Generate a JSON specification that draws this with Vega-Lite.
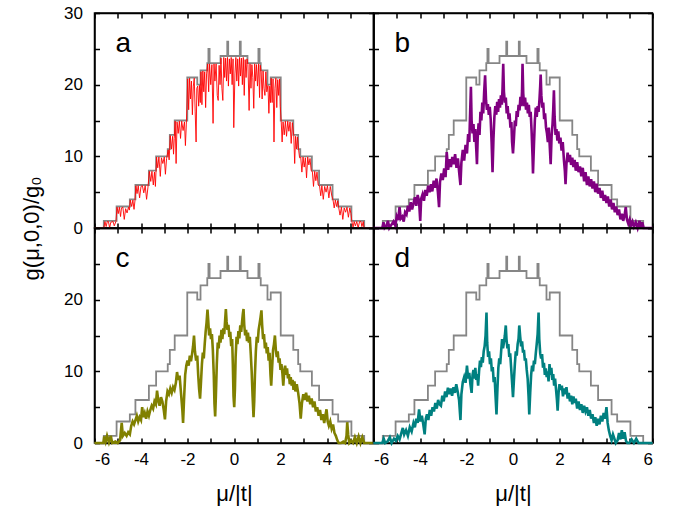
{
"$schema": "https://vega.github.io/schema/vega-lite/v6.json",
"background": "white",
"padding": {"left": 19.5, "top": 3, "right": 5, "bottom": 5},
"datasets": {
"stairs": [
{"x":-6,"y":0},{"x":-5.6,"y":1},{"x":-5.05,"y":3},{"x":-4.48,"y":4},{"x":-4.24,"y":6},{"x":-3.66,"y":8},{"x":-3.35,"y":10},{"x":-2.85,"y":11},{"x":-2.76,"y":13},{"x":-2.55,"y":15},{"x":-2.01,"y":21},{"x":-1.58,"y":20},{"x":-1.44,"y":22},{"x":-1.15,"y":23},{"x":-1.1,"y":25},{"x":-1.05,"y":23},{"x":-0.58,"y":24},{"x":-0.29,"y":26},{"x":-0.25,"y":24},{"x":0.25,"y":26},{"x":0.29,"y":24},{"x":0.58,"y":23},{"x":1.05,"y":25},{"x":1.1,"y":23},{"x":1.15,"y":22},{"x":1.44,"y":20},{"x":1.58,"y":21},{"x":2.01,"y":15},{"x":2.55,"y":13},{"x":2.76,"y":11},{"x":2.85,"y":10},{"x":3.35,"y":8},{"x":3.66,"y":6},{"x":4.24,"y":4},{"x":4.48,"y":3},{"x":5.05,"y":1},{"x":5.6,"y":0},{"x":6,"y":0}
],
"curves": [
{"p":"a","x":-6,"y":0},{"p":"a","x":-5.6,"y":0},{"p":"a","x":-5.55,"y":0.9},{"p":"a","x":-5.5,"y":0.2},{"p":"a","x":-5.45,"y":0.9},{"p":"a","x":-5.4,"y":0.9},{"p":"a","x":-5.35,"y":0},{"p":"a","x":-5.3,"y":0.8},{"p":"a","x":-5.2,"y":0.9},{"p":"a","x":-5.15,"y":0.3},{"p":"a","x":-5.08,"y":0.9},
{"p":"a","x":-5.03,"y":2.9},{"p":"a","x":-4.98,"y":2.0},{"p":"a","x":-4.93,"y":2.9},{"p":"a","x":-4.88,"y":1.6},{"p":"a","x":-4.84,"y":2.8},{"p":"a","x":-4.78,"y":2.9},{"p":"a","x":-4.72,"y":1.2},{"p":"a","x":-4.66,"y":2.7},{"p":"a","x":-4.6,"y":2.1},{"p":"a","x":-4.54,"y":2.9},{"p":"a","x":-4.5,"y":2.5},
{"p":"a","x":-4.46,"y":3.9},{"p":"a","x":-4.4,"y":3.0},{"p":"a","x":-4.35,"y":3.9},{"p":"a","x":-4.3,"y":2.6},{"p":"a","x":-4.26,"y":3.8},
{"p":"a","x":-4.22,"y":5.9},{"p":"a","x":-4.17,"y":4.8},{"p":"a","x":-4.12,"y":5.9},{"p":"a","x":-4.06,"y":4.2},{"p":"a","x":-4.0,"y":5.8},{"p":"a","x":-3.94,"y":5.9},{"p":"a","x":-3.88,"y":4.9},{"p":"a","x":-3.82,"y":5.9},{"p":"a","x":-3.76,"y":4.0},{"p":"a","x":-3.7,"y":5.7},
{"p":"a","x":-3.64,"y":7.9},{"p":"a","x":-3.58,"y":6.5},{"p":"a","x":-3.53,"y":7.9},{"p":"a","x":-3.47,"y":6.0},{"p":"a","x":-3.42,"y":7.8},{"p":"a","x":-3.38,"y":5.8},
{"p":"a","x":-3.33,"y":9.9},{"p":"a","x":-3.28,"y":8.4},{"p":"a","x":-3.23,"y":9.9},{"p":"a","x":-3.17,"y":7.2},{"p":"a","x":-3.12,"y":9.8},{"p":"a","x":-3.06,"y":9.0},{"p":"a","x":-3.0,"y":9.9},{"p":"a","x":-2.95,"y":7.5},{"p":"a","x":-2.9,"y":9.7},
{"p":"a","x":-2.83,"y":10.9},{"p":"a","x":-2.79,"y":9.5},
{"p":"a","x":-2.74,"y":12.9},{"p":"a","x":-2.69,"y":11.0},{"p":"a","x":-2.64,"y":12.8},{"p":"a","x":-2.6,"y":10.3},{"p":"a","x":-2.57,"y":12.5},
{"p":"a","x":-2.53,"y":14.9},{"p":"a","x":-2.49,"y":9.0},{"p":"a","x":-2.45,"y":14.8},{"p":"a","x":-2.4,"y":13.2},{"p":"a","x":-2.35,"y":14.9},{"p":"a","x":-2.3,"y":12.5},{"p":"a","x":-2.25,"y":14.9},{"p":"a","x":-2.19,"y":13.6},{"p":"a","x":-2.13,"y":14.8},{"p":"a","x":-2.09,"y":11.5},{"p":"a","x":-2.05,"y":14.5},
{"p":"a","x":-1.99,"y":20.8},{"p":"a","x":-1.95,"y":16.5},{"p":"a","x":-1.91,"y":20.9},{"p":"a","x":-1.87,"y":18.0},{"p":"a","x":-1.83,"y":20.5},{"p":"a","x":-1.79,"y":15.8},{"p":"a","x":-1.75,"y":19.8},{"p":"a","x":-1.71,"y":20.9},{"p":"a","x":-1.67,"y":16.2},{"p":"a","x":-1.63,"y":12.0},{"p":"a","x":-1.6,"y":19.5},
{"p":"a","x":-1.56,"y":19.8},{"p":"a","x":-1.52,"y":17.0},{"p":"a","x":-1.48,"y":19.9},{"p":"a","x":-1.45,"y":17.5},
{"p":"a","x":-1.42,"y":21.8},{"p":"a","x":-1.38,"y":17.2},{"p":"a","x":-1.34,"y":21.9},{"p":"a","x":-1.3,"y":19.0},{"p":"a","x":-1.26,"y":21.8},{"p":"a","x":-1.22,"y":16.8},{"p":"a","x":-1.18,"y":21.5},
{"p":"a","x":-1.13,"y":22.9},{"p":"a","x":-1.09,"y":19.0},{"p":"a","x":-1.05,"y":22.9},{"p":"a","x":-1.0,"y":20.0},{"p":"a","x":-0.95,"y":22.8},{"p":"a","x":-0.9,"y":14.6},{"p":"a","x":-0.86,"y":22.9},{"p":"a","x":-0.82,"y":20.5},{"p":"a","x":-0.77,"y":22.9},{"p":"a","x":-0.72,"y":18.5},{"p":"a","x":-0.68,"y":17.8},{"p":"a","x":-0.64,"y":22.7},{"p":"a","x":-0.6,"y":20.0},
{"p":"a","x":-0.56,"y":23.7},{"p":"a","x":-0.52,"y":19.5},{"p":"a","x":-0.48,"y":17.8},{"p":"a","x":-0.44,"y":23.8},{"p":"a","x":-0.4,"y":21.0},{"p":"a","x":-0.36,"y":23.7},{"p":"a","x":-0.32,"y":20.5},{"p":"a","x":-0.28,"y":23.8},{"p":"a","x":-0.24,"y":19.8},{"p":"a","x":-0.2,"y":23.6},{"p":"a","x":-0.16,"y":21.5},{"p":"a","x":-0.12,"y":23.8},{"p":"a","x":-0.08,"y":20.0},{"p":"a","x":-0.04,"y":23.6},{"p":"a","x":-0.01,"y":14.0},
{"p":"a","x":0.04,"y":21.5},{"p":"a","x":0.08,"y":23.8},{"p":"a","x":0.12,"y":20.5},{"p":"a","x":0.16,"y":23.6},{"p":"a","x":0.2,"y":19.8},{"p":"a","x":0.24,"y":23.8},{"p":"a","x":0.28,"y":21.2},{"p":"a","x":0.32,"y":23.7},{"p":"a","x":0.36,"y":20.0},{"p":"a","x":0.4,"y":23.8},{"p":"a","x":0.44,"y":18.5},{"p":"a","x":0.48,"y":23.5},{"p":"a","x":0.52,"y":21.0},{"p":"a","x":0.56,"y":23.6},
{"p":"a","x":0.6,"y":22.8},{"p":"a","x":0.65,"y":16.4},{"p":"a","x":0.69,"y":22.9},{"p":"a","x":0.73,"y":19.5},{"p":"a","x":0.77,"y":22.8},{"p":"a","x":0.81,"y":21.0},{"p":"a","x":0.85,"y":16.7},{"p":"a","x":0.89,"y":22.9},{"p":"a","x":0.93,"y":20.5},{"p":"a","x":0.97,"y":22.8},{"p":"a","x":1.01,"y":19.8},
{"p":"a","x":1.06,"y":22.9},{"p":"a","x":1.1,"y":18.2},{"p":"a","x":1.13,"y":22.7},
{"p":"a","x":1.17,"y":21.8},{"p":"a","x":1.21,"y":18.0},{"p":"a","x":1.25,"y":21.9},{"p":"a","x":1.29,"y":19.5},{"p":"a","x":1.33,"y":18.5},{"p":"a","x":1.37,"y":21.8},{"p":"a","x":1.41,"y":19.0},
{"p":"a","x":1.46,"y":19.9},{"p":"a","x":1.5,"y":16.0},{"p":"a","x":1.54,"y":19.8},{"p":"a","x":1.57,"y":17.5},
{"p":"a","x":1.6,"y":20.9},{"p":"a","x":1.64,"y":17.5},{"p":"a","x":1.68,"y":20.8},{"p":"a","x":1.72,"y":12.0},{"p":"a","x":1.76,"y":19.5},{"p":"a","x":1.8,"y":20.9},{"p":"a","x":1.84,"y":16.8},{"p":"a","x":1.88,"y":20.7},{"p":"a","x":1.92,"y":18.5},{"p":"a","x":1.96,"y":20.8},{"p":"a","x":1.99,"y":17.0},
{"p":"a","x":2.03,"y":14.9},{"p":"a","x":2.07,"y":12.0},{"p":"a","x":2.11,"y":14.8},{"p":"a","x":2.16,"y":13.0},{"p":"a","x":2.21,"y":14.9},{"p":"a","x":2.26,"y":12.8},{"p":"a","x":2.31,"y":14.9},{"p":"a","x":2.36,"y":13.5},{"p":"a","x":2.41,"y":14.8},{"p":"a","x":2.46,"y":11.8},{"p":"a","x":2.51,"y":14.7},
{"p":"a","x":2.57,"y":12.9},{"p":"a","x":2.61,"y":9.0},{"p":"a","x":2.65,"y":12.8},{"p":"a","x":2.69,"y":11.0},{"p":"a","x":2.73,"y":12.7},
{"p":"a","x":2.78,"y":10.9},{"p":"a","x":2.82,"y":9.8},
{"p":"a","x":2.87,"y":9.9},{"p":"a","x":2.92,"y":7.8},{"p":"a","x":2.97,"y":9.9},{"p":"a","x":3.02,"y":8.5},{"p":"a","x":3.07,"y":9.8},{"p":"a","x":3.12,"y":7.0},{"p":"a","x":3.17,"y":9.9},{"p":"a","x":3.22,"y":8.8},{"p":"a","x":3.27,"y":9.7},{"p":"a","x":3.32,"y":8.0},
{"p":"a","x":3.37,"y":7.9},{"p":"a","x":3.42,"y":5.8},{"p":"a","x":3.47,"y":7.9},{"p":"a","x":3.52,"y":6.6},{"p":"a","x":3.57,"y":7.8},{"p":"a","x":3.62,"y":6.0},
{"p":"a","x":3.68,"y":5.9},{"p":"a","x":3.73,"y":4.5},{"p":"a","x":3.78,"y":5.9},{"p":"a","x":3.84,"y":4.0},{"p":"a","x":3.9,"y":5.8},{"p":"a","x":3.96,"y":5.0},{"p":"a","x":4.02,"y":5.9},{"p":"a","x":4.08,"y":4.2},{"p":"a","x":4.14,"y":5.8},{"p":"a","x":4.2,"y":4.6},
{"p":"a","x":4.26,"y":3.9},{"p":"a","x":4.31,"y":2.8},{"p":"a","x":4.36,"y":3.9},{"p":"a","x":4.41,"y":3.0},{"p":"a","x":4.46,"y":3.8},
{"p":"a","x":4.5,"y":2.9},{"p":"a","x":4.56,"y":1.8},{"p":"a","x":4.62,"y":2.9},{"p":"a","x":4.68,"y":1.2},{"p":"a","x":4.74,"y":2.8},{"p":"a","x":4.8,"y":2.2},{"p":"a","x":4.86,"y":2.9},{"p":"a","x":4.92,"y":1.5},{"p":"a","x":4.98,"y":2.8},{"p":"a","x":5.03,"y":2.0},
{"p":"a","x":5.07,"y":0.9},{"p":"a","x":5.12,"y":0.1},{"p":"a","x":5.17,"y":0.9},{"p":"a","x":5.22,"y":0.3},{"p":"a","x":5.28,"y":0.9},{"p":"a","x":5.34,"y":0},{"p":"a","x":5.4,"y":0.9},{"p":"a","x":5.46,"y":0.9},{"p":"a","x":5.5,"y":0.2},{"p":"a","x":5.56,"y":0.9},{"p":"a","x":5.59,"y":0},{"p":"a","x":6,"y":0},

{"p":"b","x":-6,"y":0},{"p":"b","x":-5.62,"y":0},{"p":"b","x":-5.57,"y":0.8},{"p":"b","x":-5.52,"y":0},{"p":"b","x":-5.44,"y":0.3},{"p":"b","x":-5.38,"y":1.0},{"p":"b","x":-5.32,"y":0},{"p":"b","x":-5.22,"y":0.5},{"p":"b","x":-5.14,"y":0.9},{"p":"b","x":-5.06,"y":0.3},{"p":"b","x":-5.0,"y":1.6},{"p":"b","x":-4.94,"y":1.1},{"p":"b","x":-4.88,"y":2.9},{"p":"b","x":-4.83,"y":1.3},{"p":"b","x":-4.76,"y":1.6},{"p":"b","x":-4.7,"y":0.9},{"p":"b","x":-4.64,"y":2.2},{"p":"b","x":-4.58,"y":1.9},{"p":"b","x":-4.52,"y":3.1},{"p":"b","x":-4.46,"y":2.3},{"p":"b","x":-4.4,"y":3.6},{"p":"b","x":-4.34,"y":2.6},{"p":"b","x":-4.28,"y":3.4},{"p":"b","x":-4.22,"y":4.3},{"p":"b","x":-4.16,"y":3.1},{"p":"b","x":-4.1,"y":4.6},{"p":"b","x":-4.04,"y":3.7},{"p":"b","x":-3.99,"y":1.0},{"p":"b","x":-3.95,"y":4.1},{"p":"b","x":-3.89,"y":4.7},{"p":"b","x":-3.83,"y":3.8},{"p":"b","x":-3.77,"y":5.3},{"p":"b","x":-3.71,"y":4.5},{"p":"b","x":-3.65,"y":5.9},{"p":"b","x":-3.59,"y":5.0},{"p":"b","x":-3.53,"y":6.1},{"p":"b","x":-3.47,"y":5.1},{"p":"b","x":-3.41,"y":6.6},{"p":"b","x":-3.35,"y":5.6},{"p":"b","x":-3.29,"y":6.9},{"p":"b","x":-3.23,"y":5.0},{"p":"b","x":-3.18,"y":2.9},{"p":"b","x":-3.14,"y":6.4},{"p":"b","x":-3.08,"y":7.6},{"p":"b","x":-3.02,"y":6.7},{"p":"b","x":-2.96,"y":8.3},{"p":"b","x":-2.9,"y":7.1},{"p":"b","x":-2.85,"y":10.6},{"p":"b","x":-2.79,"y":8.1},{"p":"b","x":-2.73,"y":9.6},{"p":"b","x":-2.67,"y":8.5},{"p":"b","x":-2.61,"y":9.9},{"p":"b","x":-2.55,"y":8.9},{"p":"b","x":-2.49,"y":10.3},{"p":"b","x":-2.43,"y":8.4},{"p":"b","x":-2.37,"y":9.7},{"p":"b","x":-2.31,"y":7.6},{"p":"b","x":-2.26,"y":6.0},{"p":"b","x":-2.22,"y":9.1},{"p":"b","x":-2.16,"y":10.9},{"p":"b","x":-2.1,"y":9.4},{"p":"b","x":-2.04,"y":11.6},{"p":"b","x":-1.98,"y":10.4},{"p":"b","x":-1.93,"y":13.1},{"p":"b","x":-1.88,"y":12.0},{"p":"b","x":-1.84,"y":16.5},{"p":"b","x":-1.81,"y":19.7},{"p":"b","x":-1.78,"y":15.0},{"p":"b","x":-1.74,"y":13.2},{"p":"b","x":-1.7,"y":14.5},{"p":"b","x":-1.66,"y":12.0},{"p":"b","x":-1.62,"y":13.8},{"p":"b","x":-1.58,"y":11.0},{"p":"b","x":-1.55,"y":8.9},{"p":"b","x":-1.52,"y":12.5},{"p":"b","x":-1.48,"y":14.6},{"p":"b","x":-1.44,"y":13.0},{"p":"b","x":-1.4,"y":16.2},{"p":"b","x":-1.36,"y":15.0},{"p":"b","x":-1.32,"y":17.5},{"p":"b","x":-1.28,"y":16.0},{"p":"b","x":-1.24,"y":19.0},{"p":"b","x":-1.2,"y":21.3},{"p":"b","x":-1.16,"y":17.8},{"p":"b","x":-1.12,"y":16.5},{"p":"b","x":-1.08,"y":17.3},{"p":"b","x":-1.04,"y":15.8},{"p":"b","x":-1.0,"y":16.9},{"p":"b","x":-0.96,"y":15.2},{"p":"b","x":-0.92,"y":12.0},{"p":"b","x":-0.88,"y":7.8},{"p":"b","x":-0.84,"y":12.5},{"p":"b","x":-0.8,"y":15.5},{"p":"b","x":-0.76,"y":17.0},{"p":"b","x":-0.72,"y":15.8},{"p":"b","x":-0.68,"y":17.6},{"p":"b","x":-0.64,"y":16.2},{"p":"b","x":-0.6,"y":18.0},{"p":"b","x":-0.56,"y":16.8},{"p":"b","x":-0.52,"y":18.5},{"p":"b","x":-0.48,"y":17.2},{"p":"b","x":-0.45,"y":19.5},{"p":"b","x":-0.42,"y":22.9},{"p":"b","x":-0.39,"y":19.0},{"p":"b","x":-0.35,"y":17.5},{"p":"b","x":-0.31,"y":18.2},{"p":"b","x":-0.27,"y":16.0},{"p":"b","x":-0.23,"y":17.0},{"p":"b","x":-0.19,"y":15.2},{"p":"b","x":-0.15,"y":16.0},{"p":"b","x":-0.11,"y":14.0},{"p":"b","x":-0.07,"y":14.8},{"p":"b","x":-0.04,"y":12.0},{"p":"b","x":0.0,"y":10.4},
{"p":"b","x":0.04,"y":12.5},{"p":"b","x":0.08,"y":15.0},{"p":"b","x":0.12,"y":14.2},{"p":"b","x":0.16,"y":16.3},{"p":"b","x":0.2,"y":15.5},{"p":"b","x":0.24,"y":17.2},{"p":"b","x":0.28,"y":16.4},{"p":"b","x":0.32,"y":18.3},{"p":"b","x":0.36,"y":17.0},{"p":"b","x":0.39,"y":19.2},{"p":"b","x":0.41,"y":22.9},{"p":"b","x":0.44,"y":18.8},{"p":"b","x":0.48,"y":17.0},{"p":"b","x":0.52,"y":18.2},{"p":"b","x":0.56,"y":16.5},{"p":"b","x":0.6,"y":17.5},{"p":"b","x":0.64,"y":16.0},{"p":"b","x":0.68,"y":17.2},{"p":"b","x":0.72,"y":15.5},{"p":"b","x":0.76,"y":16.2},{"p":"b","x":0.8,"y":13.5},{"p":"b","x":0.84,"y":10.0},{"p":"b","x":0.86,"y":7.6},{"p":"b","x":0.9,"y":11.5},{"p":"b","x":0.94,"y":15.0},{"p":"b","x":0.98,"y":16.8},{"p":"b","x":1.02,"y":15.5},{"p":"b","x":1.06,"y":17.0},{"p":"b","x":1.1,"y":16.2},{"p":"b","x":1.14,"y":18.0},{"p":"b","x":1.17,"y":19.8},{"p":"b","x":1.19,"y":21.4},{"p":"b","x":1.22,"y":18.5},{"p":"b","x":1.26,"y":16.8},{"p":"b","x":1.3,"y":17.5},{"p":"b","x":1.34,"y":15.2},{"p":"b","x":1.38,"y":16.0},{"p":"b","x":1.42,"y":14.0},{"p":"b","x":1.46,"y":13.2},{"p":"b","x":1.5,"y":12.0},{"p":"b","x":1.54,"y":14.0},{"p":"b","x":1.58,"y":11.5},{"p":"b","x":1.62,"y":8.9},{"p":"b","x":1.66,"y":12.8},{"p":"b","x":1.7,"y":14.5},{"p":"b","x":1.73,"y":16.5},{"p":"b","x":1.76,"y":19.2},{"p":"b","x":1.79,"y":15.5},{"p":"b","x":1.83,"y":13.0},{"p":"b","x":1.87,"y":13.8},{"p":"b","x":1.91,"y":12.2},{"p":"b","x":1.95,"y":13.5},{"p":"b","x":1.99,"y":11.8},{"p":"b","x":2.04,"y":12.6},{"p":"b","x":2.09,"y":10.8},{"p":"b","x":2.14,"y":12.0},{"p":"b","x":2.19,"y":9.5},{"p":"b","x":2.23,"y":8.0},{"p":"b","x":2.26,"y":6.1},{"p":"b","x":2.3,"y":9.0},{"p":"b","x":2.35,"y":10.5},{"p":"b","x":2.4,"y":9.2},{"p":"b","x":2.45,"y":10.2},{"p":"b","x":2.5,"y":8.8},{"p":"b","x":2.55,"y":9.8},{"p":"b","x":2.6,"y":8.5},{"p":"b","x":2.65,"y":9.5},{"p":"b","x":2.7,"y":8.0},{"p":"b","x":2.76,"y":9.2},{"p":"b","x":2.82,"y":7.8},{"p":"b","x":2.88,"y":8.6},{"p":"b","x":2.94,"y":7.2},{"p":"b","x":3.0,"y":8.4},{"p":"b","x":3.06,"y":6.5},{"p":"b","x":3.12,"y":7.8},{"p":"b","x":3.18,"y":6.0},{"p":"b","x":3.24,"y":7.2},{"p":"b","x":3.3,"y":5.8},{"p":"b","x":3.36,"y":6.8},{"p":"b","x":3.42,"y":5.5},{"p":"b","x":3.48,"y":6.5},{"p":"b","x":3.54,"y":5.0},{"p":"b","x":3.6,"y":6.2},{"p":"b","x":3.66,"y":4.8},{"p":"b","x":3.72,"y":5.6},{"p":"b","x":3.78,"y":4.2},{"p":"b","x":3.84,"y":5.2},{"p":"b","x":3.9,"y":3.8},{"p":"b","x":3.96,"y":4.6},{"p":"b","x":4.02,"y":3.5},{"p":"b","x":4.08,"y":4.4},{"p":"b","x":4.14,"y":3.0},{"p":"b","x":4.2,"y":4.0},{"p":"b","x":4.26,"y":2.6},{"p":"b","x":4.32,"y":3.5},{"p":"b","x":4.38,"y":2.2},{"p":"b","x":4.44,"y":3.0},{"p":"b","x":4.5,"y":1.8},{"p":"b","x":4.56,"y":2.6},{"p":"b","x":4.62,"y":1.2},{"p":"b","x":4.68,"y":2.0},{"p":"b","x":4.74,"y":1.0},{"p":"b","x":4.8,"y":1.8},{"p":"b","x":4.85,"y":2.9},{"p":"b","x":4.9,"y":1.2},{"p":"b","x":4.96,"y":0.6},{"p":"b","x":5.02,"y":1.2},{"p":"b","x":5.08,"y":0.4},{"p":"b","x":5.14,"y":0.9},{"p":"b","x":5.2,"y":0.2},{"p":"b","x":5.28,"y":0.8},{"p":"b","x":5.36,"y":0},{"p":"b","x":5.44,"y":1.0},{"p":"b","x":5.5,"y":0},{"p":"b","x":5.56,"y":0.8},{"p":"b","x":5.62,"y":0},{"p":"b","x":6,"y":0},

{"p":"c","x":-6,"y":0},{"p":"c","x":-5.62,"y":0},{"p":"c","x":-5.58,"y":0.9},{"p":"c","x":-5.52,"y":0.2},{"p":"c","x":-5.46,"y":1.0},{"p":"c","x":-5.38,"y":0.1},{"p":"c","x":-5.3,"y":1.0},{"p":"c","x":-5.24,"y":0},{"p":"c","x":-5.1,"y":0.2},{"p":"c","x":-5.0,"y":0},{"p":"c","x":-4.9,"y":0.4},{"p":"c","x":-4.83,"y":2.8},{"p":"c","x":-4.78,"y":1.0},{"p":"c","x":-4.7,"y":1.4},{"p":"c","x":-4.62,"y":1.0},{"p":"c","x":-4.55,"y":1.5},{"p":"c","x":-4.48,"y":1.2},{"p":"c","x":-4.42,"y":2.4},{"p":"c","x":-4.36,"y":3.0},{"p":"c","x":-4.3,"y":2.6},{"p":"c","x":-4.24,"y":3.2},{"p":"c","x":-4.18,"y":3.8},{"p":"c","x":-4.12,"y":3.0},{"p":"c","x":-4.06,"y":3.6},{"p":"c","x":-4.0,"y":3.2},{"p":"c","x":-3.95,"y":5.0},{"p":"c","x":-3.9,"y":3.6},{"p":"c","x":-3.84,"y":4.2},{"p":"c","x":-3.78,"y":3.4},{"p":"c","x":-3.72,"y":4.4},{"p":"c","x":-3.66,"y":3.8},{"p":"c","x":-3.6,"y":4.6},{"p":"c","x":-3.54,"y":5.2},{"p":"c","x":-3.48,"y":4.8},{"p":"c","x":-3.42,"y":5.8},{"p":"c","x":-3.36,"y":5.4},{"p":"c","x":-3.31,"y":7.3},{"p":"c","x":-3.26,"y":6.0},{"p":"c","x":-3.2,"y":5.2},{"p":"c","x":-3.14,"y":6.4},{"p":"c","x":-3.08,"y":5.8},{"p":"c","x":-3.02,"y":4.6},{"p":"c","x":-2.97,"y":3.3},{"p":"c","x":-2.92,"y":5.8},{"p":"c","x":-2.86,"y":7.2},{"p":"c","x":-2.8,"y":6.8},{"p":"c","x":-2.74,"y":7.6},{"p":"c","x":-2.68,"y":7.0},{"p":"c","x":-2.62,"y":7.8},{"p":"c","x":-2.56,"y":7.4},{"p":"c","x":-2.5,"y":8.4},{"p":"c","x":-2.45,"y":9.9},{"p":"c","x":-2.4,"y":8.8},{"p":"c","x":-2.34,"y":9.4},{"p":"c","x":-2.28,"y":7.0},{"p":"c","x":-2.22,"y":4.5},{"p":"c","x":-2.19,"y":2.8},{"p":"c","x":-2.15,"y":6.0},{"p":"c","x":-2.1,"y":9.5},{"p":"c","x":-2.05,"y":10.8},{"p":"c","x":-2.0,"y":11.5},{"p":"c","x":-1.95,"y":10.8},{"p":"c","x":-1.9,"y":12.2},{"p":"c","x":-1.85,"y":11.4},{"p":"c","x":-1.8,"y":12.5},{"p":"c","x":-1.76,"y":13.5},{"p":"c","x":-1.72,"y":15.0},{"p":"c","x":-1.68,"y":12.8},{"p":"c","x":-1.63,"y":11.5},{"p":"c","x":-1.58,"y":12.2},{"p":"c","x":-1.54,"y":9.5},{"p":"c","x":-1.5,"y":7.5},{"p":"c","x":-1.46,"y":6.2},{"p":"c","x":-1.42,"y":8.5},{"p":"c","x":-1.38,"y":11.0},{"p":"c","x":-1.34,"y":12.6},{"p":"c","x":-1.3,"y":11.8},{"p":"c","x":-1.26,"y":13.8},{"p":"c","x":-1.22,"y":15.5},{"p":"c","x":-1.18,"y":16.8},{"p":"c","x":-1.14,"y":18.6},{"p":"c","x":-1.11,"y":17.2},{"p":"c","x":-1.07,"y":15.0},{"p":"c","x":-1.03,"y":16.0},{"p":"c","x":-0.99,"y":14.5},{"p":"c","x":-0.95,"y":15.2},{"p":"c","x":-0.91,"y":13.0},{"p":"c","x":-0.87,"y":9.5},{"p":"c","x":-0.84,"y":5.5},{"p":"c","x":-0.81,"y":3.7},{"p":"c","x":-0.78,"y":6.5},{"p":"c","x":-0.74,"y":11.0},{"p":"c","x":-0.7,"y":14.0},{"p":"c","x":-0.66,"y":13.2},{"p":"c","x":-0.62,"y":15.0},{"p":"c","x":-0.58,"y":14.0},{"p":"c","x":-0.54,"y":15.8},{"p":"c","x":-0.5,"y":14.5},{"p":"c","x":-0.46,"y":16.0},{"p":"c","x":-0.42,"y":15.2},{"p":"c","x":-0.38,"y":17.2},{"p":"c","x":-0.35,"y":18.7},{"p":"c","x":-0.32,"y":17.0},{"p":"c","x":-0.28,"y":15.8},{"p":"c","x":-0.24,"y":16.5},{"p":"c","x":-0.2,"y":14.8},{"p":"c","x":-0.16,"y":15.5},{"p":"c","x":-0.12,"y":13.5},{"p":"c","x":-0.08,"y":14.5},{"p":"c","x":-0.05,"y":11.0},{"p":"c","x":-0.02,"y":6.5},{"p":"c","x":0.01,"y":5.0},
{"p":"c","x":0.04,"y":7.5},{"p":"c","x":0.07,"y":12.0},{"p":"c","x":0.11,"y":14.8},{"p":"c","x":0.15,"y":13.8},{"p":"c","x":0.19,"y":15.6},{"p":"c","x":0.23,"y":14.6},{"p":"c","x":0.27,"y":16.4},{"p":"c","x":0.31,"y":15.5},{"p":"c","x":0.35,"y":17.0},{"p":"c","x":0.38,"y":18.0},{"p":"c","x":0.41,"y":18.7},{"p":"c","x":0.44,"y":16.5},{"p":"c","x":0.48,"y":15.0},{"p":"c","x":0.52,"y":15.8},{"p":"c","x":0.56,"y":14.2},{"p":"c","x":0.6,"y":15.4},{"p":"c","x":0.64,"y":14.0},{"p":"c","x":0.68,"y":14.8},{"p":"c","x":0.72,"y":12.5},{"p":"c","x":0.76,"y":10.0},{"p":"c","x":0.8,"y":6.5},{"p":"c","x":0.84,"y":3.6},{"p":"c","x":0.87,"y":5.8},{"p":"c","x":0.9,"y":9.5},{"p":"c","x":0.94,"y":12.8},{"p":"c","x":0.98,"y":14.8},{"p":"c","x":1.02,"y":14.0},{"p":"c","x":1.06,"y":15.8},{"p":"c","x":1.1,"y":16.6},{"p":"c","x":1.14,"y":17.5},{"p":"c","x":1.18,"y":18.5},{"p":"c","x":1.21,"y":16.5},{"p":"c","x":1.25,"y":14.5},{"p":"c","x":1.29,"y":15.2},{"p":"c","x":1.33,"y":13.2},{"p":"c","x":1.37,"y":14.0},{"p":"c","x":1.41,"y":12.5},{"p":"c","x":1.45,"y":13.4},{"p":"c","x":1.49,"y":11.5},{"p":"c","x":1.53,"y":12.6},{"p":"c","x":1.57,"y":9.5},{"p":"c","x":1.6,"y":8.0},{"p":"c","x":1.64,"y":10.5},{"p":"c","x":1.68,"y":13.0},{"p":"c","x":1.72,"y":13.8},{"p":"c","x":1.76,"y":15.0},{"p":"c","x":1.8,"y":13.0},{"p":"c","x":1.84,"y":12.0},{"p":"c","x":1.88,"y":12.8},{"p":"c","x":1.92,"y":11.2},{"p":"c","x":1.96,"y":11.8},{"p":"c","x":2.0,"y":10.2},{"p":"c","x":2.04,"y":11.0},{"p":"c","x":2.08,"y":9.8},{"p":"c","x":2.12,"y":8.0},{"p":"c","x":2.16,"y":10.0},{"p":"c","x":2.2,"y":10.8},{"p":"c","x":2.24,"y":9.5},{"p":"c","x":2.28,"y":10.4},{"p":"c","x":2.32,"y":9.0},{"p":"c","x":2.36,"y":9.6},{"p":"c","x":2.4,"y":8.2},{"p":"c","x":2.44,"y":9.2},{"p":"c","x":2.48,"y":8.0},{"p":"c","x":2.52,"y":8.8},{"p":"c","x":2.56,"y":7.4},{"p":"c","x":2.6,"y":8.6},{"p":"c","x":2.64,"y":7.2},{"p":"c","x":2.7,"y":8.2},{"p":"c","x":2.76,"y":7.0},{"p":"c","x":2.82,"y":5.5},{"p":"c","x":2.87,"y":3.4},{"p":"c","x":2.92,"y":5.5},{"p":"c","x":2.98,"y":6.8},{"p":"c","x":3.04,"y":6.0},{"p":"c","x":3.1,"y":7.0},{"p":"c","x":3.16,"y":5.8},{"p":"c","x":3.22,"y":6.6},{"p":"c","x":3.28,"y":5.4},{"p":"c","x":3.34,"y":6.2},{"p":"c","x":3.4,"y":5.0},{"p":"c","x":3.46,"y":5.8},{"p":"c","x":3.52,"y":4.4},{"p":"c","x":3.58,"y":5.0},{"p":"c","x":3.64,"y":3.8},{"p":"c","x":3.7,"y":4.6},{"p":"c","x":3.76,"y":3.2},{"p":"c","x":3.82,"y":4.0},{"p":"c","x":3.88,"y":2.8},{"p":"c","x":3.93,"y":3.8},{"p":"c","x":3.98,"y":4.7},{"p":"c","x":4.03,"y":3.0},{"p":"c","x":4.08,"y":2.4},{"p":"c","x":4.14,"y":3.0},{"p":"c","x":4.2,"y":2.0},{"p":"c","x":4.26,"y":2.6},{"p":"c","x":4.32,"y":1.4},{"p":"c","x":4.38,"y":1.0},{"p":"c","x":4.44,"y":0.4},{"p":"c","x":4.5,"y":0},{"p":"c","x":4.6,"y":0},{"p":"c","x":4.7,"y":0.2},{"p":"c","x":4.78,"y":0},{"p":"c","x":4.84,"y":1.0},{"p":"c","x":4.87,"y":2.9},{"p":"c","x":4.91,"y":1.2},{"p":"c","x":4.96,"y":0},{"p":"c","x":5.04,"y":0.3},{"p":"c","x":5.12,"y":0},{"p":"c","x":5.2,"y":0.8},{"p":"c","x":5.28,"y":0},{"p":"c","x":5.36,"y":0.9},{"p":"c","x":5.44,"y":0},{"p":"c","x":5.52,"y":0.8},{"p":"c","x":5.6,"y":0},{"p":"c","x":6,"y":0},

{"p":"d","x":-6,"y":0},{"p":"d","x":-5.62,"y":0},{"p":"d","x":-5.56,"y":0.6},{"p":"d","x":-5.5,"y":0},{"p":"d","x":-5.4,"y":0.2},{"p":"d","x":-5.3,"y":0.8},{"p":"d","x":-5.22,"y":0},{"p":"d","x":-5.12,"y":0.6},{"p":"d","x":-5.04,"y":0.3},{"p":"d","x":-4.96,"y":1.0},{"p":"d","x":-4.88,"y":0.5},{"p":"d","x":-4.8,"y":1.4},{"p":"d","x":-4.74,"y":2.1},{"p":"d","x":-4.68,"y":1.2},{"p":"d","x":-4.6,"y":1.8},{"p":"d","x":-4.52,"y":1.0},{"p":"d","x":-4.44,"y":2.2},{"p":"d","x":-4.36,"y":1.6},{"p":"d","x":-4.28,"y":2.8},{"p":"d","x":-4.22,"y":2.2},{"p":"d","x":-4.16,"y":3.4},{"p":"d","x":-4.1,"y":2.8},{"p":"d","x":-4.04,"y":4.7},{"p":"d","x":-3.98,"y":3.0},{"p":"d","x":-3.92,"y":3.8},{"p":"d","x":-3.86,"y":2.6},{"p":"d","x":-3.8,"y":1.2},{"p":"d","x":-3.75,"y":3.4},{"p":"d","x":-3.7,"y":4.0},{"p":"d","x":-3.64,"y":3.2},{"p":"d","x":-3.58,"y":4.6},{"p":"d","x":-3.52,"y":3.8},{"p":"d","x":-3.46,"y":5.0},{"p":"d","x":-3.4,"y":4.4},{"p":"d","x":-3.34,"y":5.6},{"p":"d","x":-3.28,"y":4.8},{"p":"d","x":-3.22,"y":6.0},{"p":"d","x":-3.16,"y":5.4},{"p":"d","x":-3.1,"y":5.2},{"p":"d","x":-3.04,"y":6.6},{"p":"d","x":-2.98,"y":5.8},{"p":"d","x":-2.92,"y":7.2},{"p":"d","x":-2.86,"y":6.4},{"p":"d","x":-2.8,"y":7.7},{"p":"d","x":-2.74,"y":6.8},{"p":"d","x":-2.68,"y":7.6},{"p":"d","x":-2.62,"y":6.6},{"p":"d","x":-2.56,"y":7.8},{"p":"d","x":-2.5,"y":7.0},{"p":"d","x":-2.44,"y":8.2},{"p":"d","x":-2.38,"y":7.2},{"p":"d","x":-2.32,"y":6.0},{"p":"d","x":-2.26,"y":3.2},{"p":"d","x":-2.22,"y":6.8},{"p":"d","x":-2.16,"y":8.5},{"p":"d","x":-2.1,"y":9.2},{"p":"d","x":-2.04,"y":8.4},{"p":"d","x":-1.98,"y":10.8},{"p":"d","x":-1.93,"y":9.0},{"p":"d","x":-1.88,"y":9.8},{"p":"d","x":-1.83,"y":8.2},{"p":"d","x":-1.78,"y":7.0},{"p":"d","x":-1.74,"y":9.5},{"p":"d","x":-1.7,"y":10.2},{"p":"d","x":-1.66,"y":9.0},{"p":"d","x":-1.62,"y":10.5},{"p":"d","x":-1.58,"y":8.8},{"p":"d","x":-1.54,"y":9.6},{"p":"d","x":-1.5,"y":8.0},{"p":"d","x":-1.46,"y":10.0},{"p":"d","x":-1.42,"y":11.5},{"p":"d","x":-1.38,"y":10.6},{"p":"d","x":-1.34,"y":12.0},{"p":"d","x":-1.3,"y":11.2},{"p":"d","x":-1.26,"y":12.8},{"p":"d","x":-1.22,"y":13.5},{"p":"d","x":-1.18,"y":15.0},{"p":"d","x":-1.14,"y":18.2},{"p":"d","x":-1.11,"y":14.0},{"p":"d","x":-1.07,"y":12.0},{"p":"d","x":-1.03,"y":12.8},{"p":"d","x":-0.99,"y":11.0},{"p":"d","x":-0.95,"y":11.8},{"p":"d","x":-0.91,"y":10.0},{"p":"d","x":-0.87,"y":10.6},{"p":"d","x":-0.83,"y":8.5},{"p":"d","x":-0.79,"y":9.2},{"p":"d","x":-0.75,"y":6.5},{"p":"d","x":-0.71,"y":4.0},{"p":"d","x":-0.67,"y":7.5},{"p":"d","x":-0.63,"y":10.5},{"p":"d","x":-0.59,"y":11.8},{"p":"d","x":-0.55,"y":11.0},{"p":"d","x":-0.51,"y":12.8},{"p":"d","x":-0.47,"y":14.5},{"p":"d","x":-0.43,"y":13.2},{"p":"d","x":-0.39,"y":14.0},{"p":"d","x":-0.35,"y":15.0},{"p":"d","x":-0.31,"y":16.4},{"p":"d","x":-0.28,"y":14.5},{"p":"d","x":-0.24,"y":13.2},{"p":"d","x":-0.2,"y":13.8},{"p":"d","x":-0.16,"y":12.0},{"p":"d","x":-0.12,"y":12.5},{"p":"d","x":-0.08,"y":10.5},{"p":"d","x":-0.04,"y":8.5},{"p":"d","x":0.0,"y":6.4},
{"p":"d","x":0.04,"y":8.8},{"p":"d","x":0.08,"y":11.0},{"p":"d","x":0.12,"y":12.8},{"p":"d","x":0.16,"y":12.2},{"p":"d","x":0.2,"y":13.8},{"p":"d","x":0.24,"y":14.6},{"p":"d","x":0.27,"y":16.4},{"p":"d","x":0.31,"y":14.8},{"p":"d","x":0.35,"y":13.5},{"p":"d","x":0.39,"y":14.2},{"p":"d","x":0.43,"y":12.6},{"p":"d","x":0.47,"y":13.0},{"p":"d","x":0.51,"y":11.5},{"p":"d","x":0.55,"y":11.8},{"p":"d","x":0.59,"y":10.2},{"p":"d","x":0.63,"y":9.0},{"p":"d","x":0.67,"y":6.5},{"p":"d","x":0.7,"y":4.0},{"p":"d","x":0.74,"y":7.0},{"p":"d","x":0.78,"y":9.5},{"p":"d","x":0.82,"y":10.8},{"p":"d","x":0.86,"y":10.0},{"p":"d","x":0.9,"y":11.5},{"p":"d","x":0.94,"y":11.0},{"p":"d","x":0.98,"y":12.5},{"p":"d","x":1.02,"y":13.8},{"p":"d","x":1.06,"y":15.2},{"p":"d","x":1.1,"y":18.2},{"p":"d","x":1.13,"y":14.5},{"p":"d","x":1.17,"y":12.5},{"p":"d","x":1.21,"y":11.8},{"p":"d","x":1.25,"y":12.4},{"p":"d","x":1.29,"y":10.5},{"p":"d","x":1.33,"y":11.2},{"p":"d","x":1.37,"y":9.5},{"p":"d","x":1.41,"y":10.4},{"p":"d","x":1.45,"y":9.2},{"p":"d","x":1.49,"y":10.0},{"p":"d","x":1.53,"y":8.6},{"p":"d","x":1.57,"y":11.0},{"p":"d","x":1.61,"y":9.5},{"p":"d","x":1.65,"y":10.5},{"p":"d","x":1.69,"y":8.8},{"p":"d","x":1.73,"y":9.6},{"p":"d","x":1.77,"y":8.0},{"p":"d","x":1.81,"y":9.0},{"p":"d","x":1.85,"y":7.5},{"p":"d","x":1.89,"y":6.0},{"p":"d","x":1.92,"y":4.5},{"p":"d","x":1.96,"y":7.0},{"p":"d","x":2.0,"y":8.2},{"p":"d","x":2.05,"y":7.4},{"p":"d","x":2.1,"y":8.0},{"p":"d","x":2.15,"y":6.5},{"p":"d","x":2.2,"y":7.6},{"p":"d","x":2.25,"y":6.8},{"p":"d","x":2.3,"y":7.8},{"p":"d","x":2.35,"y":6.2},{"p":"d","x":2.4,"y":7.0},{"p":"d","x":2.45,"y":5.8},{"p":"d","x":2.5,"y":6.6},{"p":"d","x":2.55,"y":5.4},{"p":"d","x":2.6,"y":6.5},{"p":"d","x":2.65,"y":5.6},{"p":"d","x":2.7,"y":6.2},{"p":"d","x":2.76,"y":4.8},{"p":"d","x":2.82,"y":5.8},{"p":"d","x":2.88,"y":4.6},{"p":"d","x":2.94,"y":5.4},{"p":"d","x":3.0,"y":4.2},{"p":"d","x":3.06,"y":5.2},{"p":"d","x":3.12,"y":4.4},{"p":"d","x":3.18,"y":5.0},{"p":"d","x":3.24,"y":3.8},{"p":"d","x":3.3,"y":4.6},{"p":"d","x":3.36,"y":3.4},{"p":"d","x":3.42,"y":4.0},{"p":"d","x":3.48,"y":2.8},{"p":"d","x":3.54,"y":3.6},{"p":"d","x":3.6,"y":2.4},{"p":"d","x":3.66,"y":3.4},{"p":"d","x":3.72,"y":2.6},{"p":"d","x":3.78,"y":3.8},{"p":"d","x":3.84,"y":3.0},{"p":"d","x":3.9,"y":4.2},{"p":"d","x":3.96,"y":3.4},{"p":"d","x":4.02,"y":5.0},{"p":"d","x":4.07,"y":2.8},{"p":"d","x":4.12,"y":1.8},{"p":"d","x":4.18,"y":1.0},{"p":"d","x":4.24,"y":0.4},{"p":"d","x":4.3,"y":1.2},{"p":"d","x":4.36,"y":0.6},{"p":"d","x":4.42,"y":0},{"p":"d","x":4.5,"y":0.4},{"p":"d","x":4.56,"y":1.4},{"p":"d","x":4.62,"y":0.5},{"p":"d","x":4.68,"y":1.8},{"p":"d","x":4.74,"y":0.6},{"p":"d","x":4.8,"y":1.5},{"p":"d","x":4.86,"y":0.3},{"p":"d","x":4.92,"y":0},{"p":"d","x":5.0,"y":0},{"p":"d","x":5.1,"y":0.5},{"p":"d","x":5.2,"y":0},{"p":"d","x":5.3,"y":0.6},{"p":"d","x":5.4,"y":0},{"p":"d","x":6,"y":0}
]
},
"config": {
  "font": "Liberation Sans",
  "view": {"stroke": "black", "strokeWidth": 1.5},
  "axis": {"grid": false, "domainColor": "black", "domainWidth": 1.5, "tickColor": "black", "tickWidth": 1.5, "tickSize": -5, "labelFont": "Liberation Sans", "labelFontSize": 17, "labelColor": "black", "titleFont": "Liberation Sans", "titleFontWeight": "normal", "titleColor": "black", "titleFontSize": 22},
  "line": {"strokeJoin": "miter"}
},
"columns": 2,
"spacing": 0,
"bounds": "flush",
"concat": [
{
  "width": 279, "height": 215,
  "resolve": {"axis": {"x": "independent", "y": "independent"}},
  "layer": [
    {"data": {"name": "stairs"}, "mark": {"type": "line", "interpolate": "step-after", "color": "#868686", "strokeWidth": 1.8},
     "encoding": {
       "x": {"field": "x", "type": "quantitative", "scale": {"domain": [-6, 6], "nice": false}, "axis": {"orient": "bottom", "values": [-6,-5,-4,-3,-2,-1,0,1,2,3,4,5,6], "labels": false, "title": null}},
       "y": {"field": "y", "type": "quantitative", "scale": {"domain": [0, 30], "nice": false}, "axis": {"orient": "left", "values": [0,5,10,15,20,25,30], "labelPadding": 17, "labelExpr": "datum.value % 10 === 0 ? '' + datum.value : ''", "title": null}}}},
    {"data": {"name": "curves"}, "transform": [{"filter": "datum.p === 'a'"}], "mark": {"type": "line", "color": "#ff0000", "strokeWidth": 0.9},
     "encoding": {
       "x": {"field": "x", "type": "quantitative", "axis": {"orient": "top", "values": [-6,-5,-4,-3,-2,-1,0,1,2,3,4,5,6], "labels": false, "title": null}},
       "y": {"field": "y", "type": "quantitative", "axis": {"orient": "right", "values": [0,5,10,15,20,25,30], "labels": false, "title": null}}}},
    {"data": {"values": [{}]}, "mark": {"type": "text", "text": "a", "fontSize": 28, "align": "left", "baseline": "alphabetic", "color": "black"},
     "encoding": {"x": {"datum": -5.1, "type": "quantitative", "axis": null}, "y": {"datum": 24.6, "type": "quantitative", "axis": null}}}
  ]
},
{
  "width": 279, "height": 215,
  "resolve": {"axis": {"x": "independent", "y": "independent"}},
  "layer": [
    {"data": {"name": "stairs"}, "mark": {"type": "line", "interpolate": "step-after", "color": "#868686", "strokeWidth": 1.8},
     "encoding": {
       "x": {"field": "x", "type": "quantitative", "scale": {"domain": [-6, 6], "nice": false}, "axis": {"orient": "bottom", "values": [-6,-5,-4,-3,-2,-1,0,1,2,3,4,5,6], "labels": false, "title": null}},
       "y": {"field": "y", "type": "quantitative", "scale": {"domain": [0, 30], "nice": false}, "axis": {"orient": "left", "values": [0,5,10,15,20,25,30], "labels": false, "title": null}}}},
    {"data": {"name": "curves"}, "transform": [{"filter": "datum.p === 'b'"}], "mark": {"type": "line", "color": "#800080", "strokeWidth": 2.6},
     "encoding": {
       "x": {"field": "x", "type": "quantitative", "axis": {"orient": "top", "values": [-6,-5,-4,-3,-2,-1,0,1,2,3,4,5,6], "labels": false, "title": null}},
       "y": {"field": "y", "type": "quantitative", "axis": {"orient": "right", "values": [0,5,10,15,20,25,30], "labels": false, "title": null}}}},
    {"data": {"values": [{}]}, "mark": {"type": "text", "text": "b", "fontSize": 28, "align": "left", "baseline": "alphabetic", "color": "black"},
     "encoding": {"x": {"datum": -5.1, "type": "quantitative", "axis": null}, "y": {"datum": 24.6, "type": "quantitative", "axis": null}}}
  ]
},
{
  "width": 279, "height": 215,
  "resolve": {"axis": {"x": "independent", "y": "independent"}},
  "layer": [
    {"data": {"name": "stairs"}, "mark": {"type": "line", "interpolate": "step-after", "color": "#868686", "strokeWidth": 1.8},
     "encoding": {
       "x": {"field": "x", "type": "quantitative", "scale": {"domain": [-6, 6], "nice": false}, "axis": {"orient": "bottom", "values": [-6,-5,-4,-3,-2,-1,0,1,2,3,4,5,6], "labelPadding": 13, "labelExpr": "datum.value % 2 === 0 && datum.value < 6 ? '' + datum.value : ''", "title": "μ/|t|", "titlePadding": 16}},
       "y": {"field": "y", "type": "quantitative", "scale": {"domain": [0, 30], "nice": false}, "axis": {"orient": "left", "values": [0,5,10,15,20,25,30], "labelPadding": 17, "labelExpr": "datum.value % 10 === 0 && datum.value < 30 ? '' + datum.value : ''", "title": "g(μ,0,0)/g₀", "titleAnchor": "end", "titleAlign": "center", "titlePadding": 20}}}},
    {"data": {"name": "curves"}, "transform": [{"filter": "datum.p === 'c'"}], "mark": {"type": "line", "color": "#808000", "strokeWidth": 2.6},
     "encoding": {
       "x": {"field": "x", "type": "quantitative", "axis": {"orient": "top", "values": [-6,-5,-4,-3,-2,-1,0,1,2,3,4,5,6], "labels": false, "title": null}},
       "y": {"field": "y", "type": "quantitative", "axis": {"orient": "right", "values": [0,5,10,15,20,25,30], "labels": false, "title": null}}}},
    {"data": {"values": [{}]}, "mark": {"type": "text", "text": "c", "fontSize": 28, "align": "left", "baseline": "alphabetic", "color": "black"},
     "encoding": {"x": {"datum": -5.1, "type": "quantitative", "axis": null}, "y": {"datum": 24.6, "type": "quantitative", "axis": null}}}
  ]
},
{
  "width": 279, "height": 215,
  "resolve": {"axis": {"x": "independent", "y": "independent"}},
  "layer": [
    {"data": {"name": "stairs"}, "mark": {"type": "line", "interpolate": "step-after", "color": "#868686", "strokeWidth": 1.8},
     "encoding": {
       "x": {"field": "x", "type": "quantitative", "scale": {"domain": [-6, 6], "nice": false}, "axis": {"orient": "bottom", "values": [-6,-5,-4,-3,-2,-1,0,1,2,3,4,5,6], "labelPadding": 13, "labelExpr": "datum.value % 2 === 0 ? '' + datum.value : ''", "title": "μ/|t|", "titlePadding": 16}},
       "y": {"field": "y", "type": "quantitative", "scale": {"domain": [0, 30], "nice": false}, "axis": {"orient": "left", "values": [0,5,10,15,20,25,30], "labels": false, "title": null}}}},
    {"data": {"name": "curves"}, "transform": [{"filter": "datum.p === 'd'"}], "mark": {"type": "line", "color": "#008080", "strokeWidth": 2.6},
     "encoding": {
       "x": {"field": "x", "type": "quantitative", "axis": {"orient": "top", "values": [-6,-5,-4,-3,-2,-1,0,1,2,3,4,5,6], "labels": false, "title": null}},
       "y": {"field": "y", "type": "quantitative", "axis": {"orient": "right", "values": [0,5,10,15,20,25,30], "labels": false, "title": null}}}},
    {"data": {"values": [{}]}, "mark": {"type": "text", "text": "d", "fontSize": 28, "align": "left", "baseline": "alphabetic", "color": "black"},
     "encoding": {"x": {"datum": -5.1, "type": "quantitative", "axis": null}, "y": {"datum": 24.6, "type": "quantitative", "axis": null}}}
  ]
}
]
}
